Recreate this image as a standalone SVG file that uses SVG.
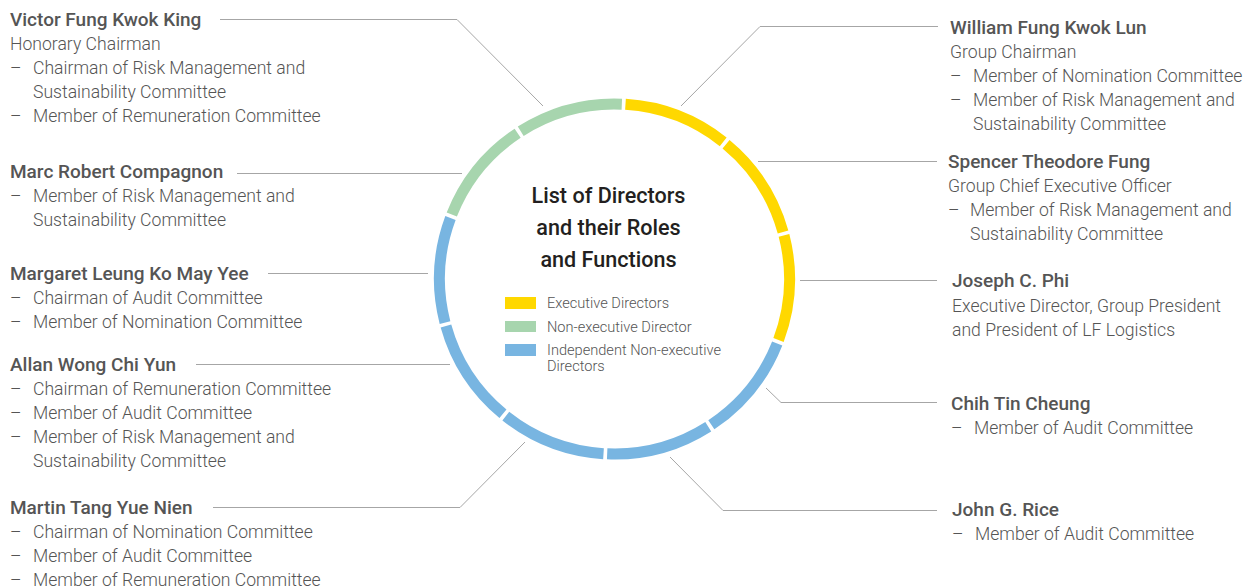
<svg xmlns="http://www.w3.org/2000/svg" width="1251" height="588" viewBox="0 0 1251 588">
<style>
.nm{font-family:Roboto,"Liberation Sans",sans-serif;font-size:19px;font-weight:500;fill:#555}
.tx{font-family:Roboto,"Liberation Sans",sans-serif;font-size:17.6px;font-weight:300;fill:#555}
.tt{font-family:Roboto,"Liberation Sans",sans-serif;font-size:21.6px;font-weight:500;fill:#231f20;text-anchor:middle}
.lg{font-family:Roboto,"Liberation Sans",sans-serif;font-size:14.6px;font-weight:300;fill:#555}
.ln{fill:none;stroke:#a6a6a6;stroke-width:1}
.seg{fill:none;stroke-width:11;stroke-linecap:butt}
.y{stroke:#ffd800}.g{stroke:#a7d5ae}.b{stroke:#78b5e1}
</style>
<rect width="1251" height="588" fill="#fff"/>
<g id="connectors">
<polyline class="ln" points="220,19.5 457,19.5 543,106"/>
<polyline class="ln" points="237,173.5 462,173.5"/>
<polyline class="ln" points="268,273.5 428,273.5"/>
<polyline class="ln" points="196,364.5 450,364.5"/>
<polyline class="ln" points="213,507.5 460,507.5 525,442"/>
<polyline class="ln" points="938,26.5 760,26.5 681,106"/>
<polyline class="ln" points="937,161.5 758,161.5"/>
<polyline class="ln" points="937,280.5 800,280.5"/>
<polyline class="ln" points="766,388 781,402.5 937,402.5"/>
<polyline class="ln" points="670,457 723,510.5 937,510.5"/>
</g>
<g id="ring">
<path class="seg y" d="M625.49,104.34 A175,175 0 0 1 723.20,141.85"/>
<path class="seg y" d="M726.05,144.16 A175,175 0 0 1 783.05,231.94"/>
<path class="seg y" d="M784.00,235.48 A175,175 0 0 1 778.52,340.00"/>
<path class="seg b" d="M777.21,343.42 A175,175 0 0 1 711.34,424.76"/>
<path class="seg b" d="M708.27,426.76 A175,175 0 0 1 607.17,453.85"/>
<path class="seg b" d="M603.51,453.66 A175,175 0 0 1 505.80,416.15"/>
<path class="seg b" d="M502.95,413.84 A175,175 0 0 1 445.95,326.06"/>
<path class="seg b" d="M445.00,322.52 A175,175 0 0 1 450.48,218.00"/>
<path class="seg g" d="M451.79,214.58 A175,175 0 0 1 517.66,133.24"/>
<path class="seg g" d="M520.73,131.24 A175,175 0 0 1 621.83,104.15"/>
</g>
<g id="title">
<text class="tt" x="608.5" y="203">List of Directors</text>
<text class="tt" x="608.5" y="235">and their Roles</text>
<text class="tt" x="608.5" y="267">and Functions</text>
</g>
<g id="legend">
<rect x="505" y="297" width="31" height="12" fill="#ffd800"/>
<rect x="505" y="321" width="31" height="11" fill="#a7d5ae"/>
<rect x="505" y="344" width="31" height="12" fill="#78b5e1"/>
<text class="lg" x="547" y="308">Executive Directors</text>
<text class="lg" x="547" y="332">Non-executive Director</text>
<text class="lg" x="547" y="355">Independent Non-executive</text>
<text class="lg" x="547" y="371">Directors</text>
</g>
<g id="victor">
<text class="nm" x="10" y="26">Victor Fung Kwok King</text>
<text class="tx" x="10" y="50">Honorary Chairman</text>
<text class="tx" y="74"><tspan x="10">–</tspan><tspan x="33">Chairman of Risk Management and</tspan></text>
<text class="tx" x="33" y="98">Sustainability Committee</text>
<text class="tx" y="122"><tspan x="10">–</tspan><tspan x="33">Member of Remuneration Committee</tspan></text>
</g>
<g id="marc">
<text class="nm" x="10" y="178">Marc Robert Compagnon</text>
<text class="tx" y="202"><tspan x="10">–</tspan><tspan x="33">Member of Risk Management and</tspan></text>
<text class="tx" x="33" y="226">Sustainability Committee</text>
</g>
<g id="margaret">
<text class="nm" x="10" y="280">Margaret Leung Ko May Yee</text>
<text class="tx" y="304"><tspan x="10">–</tspan><tspan x="33">Chairman of Audit Committee</tspan></text>
<text class="tx" y="328"><tspan x="10">–</tspan><tspan x="33">Member of Nomination Committee</tspan></text>
</g>
<g id="allan">
<text class="nm" x="10" y="371">Allan Wong Chi Yun</text>
<text class="tx" y="395"><tspan x="10">–</tspan><tspan x="33">Chairman of Remuneration Committee</tspan></text>
<text class="tx" y="419"><tspan x="10">–</tspan><tspan x="33">Member of Audit Committee</tspan></text>
<text class="tx" y="443"><tspan x="10">–</tspan><tspan x="33">Member of Risk Management and</tspan></text>
<text class="tx" x="33" y="467">Sustainability Committee</text>
</g>
<g id="martin">
<text class="nm" x="10" y="514">Martin Tang Yue Nien</text>
<text class="tx" y="538"><tspan x="10">–</tspan><tspan x="33">Chairman of Nomination Committee</tspan></text>
<text class="tx" y="562"><tspan x="10">–</tspan><tspan x="33">Member of Audit Committee</tspan></text>
<text class="tx" y="586"><tspan x="10">–</tspan><tspan x="33">Member of Remuneration Committee</tspan></text>
</g>
<g id="william">
<text class="nm" x="950" y="34">William Fung Kwok Lun</text>
<text class="tx" x="950" y="58">Group Chairman</text>
<text class="tx" y="82"><tspan x="950">–</tspan><tspan x="973">Member of Nomination Committee</tspan></text>
<text class="tx" y="106"><tspan x="950">–</tspan><tspan x="973">Member of Risk Management and</tspan></text>
<text class="tx" x="973" y="130">Sustainability Committee</text>
</g>
<g id="spencer">
<text class="nm" x="948" y="168">Spencer Theodore Fung</text>
<text class="tx" x="948" y="192">Group Chief Executive Officer</text>
<text class="tx" y="216"><tspan x="948">–</tspan><tspan x="970">Member of Risk Management and</tspan></text>
<text class="tx" x="970" y="240">Sustainability Committee</text>
</g>
<g id="joseph">
<text class="nm" x="952" y="287">Joseph C. Phi</text>
<text class="tx" x="952" y="312">Executive Director, Group President</text>
<text class="tx" x="952" y="336">and President of LF Logistics</text>
</g>
<g id="chih">
<text class="nm" x="951" y="410">Chih Tin Cheung</text>
<text class="tx" y="434"><tspan x="951">–</tspan><tspan x="974">Member of Audit Committee</tspan></text>
</g>
<g id="john">
<text class="nm" x="952" y="516">John G. Rice</text>
<text class="tx" y="540"><tspan x="952">–</tspan><tspan x="975">Member of Audit Committee</tspan></text>
</g>
</svg>
